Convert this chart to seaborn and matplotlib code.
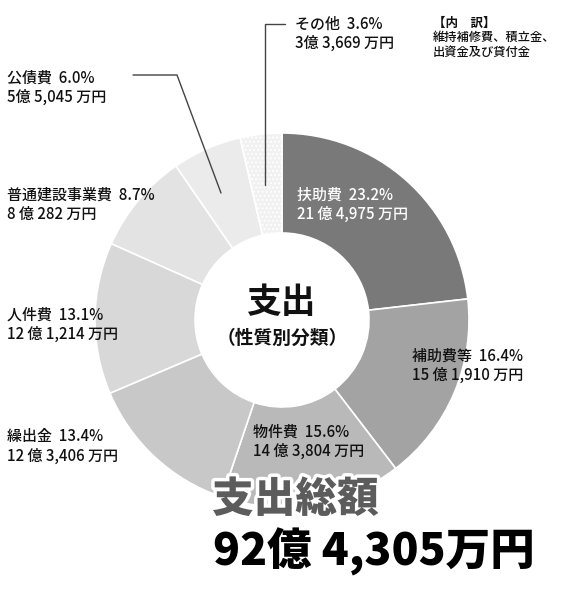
import numpy as np
import matplotlib
matplotlib.use('Agg')
import matplotlib.pyplot as plt
import matplotlib.patheffects as pe
import seaborn as sns

sns.set_theme(style='white')
plt.rcParams['font.family'] = ['Noto Sans CJK JP', 'DejaVu Sans']
plt.rcParams['hatch.color'] = '#d6d6d6'

# Data (clockwise from 12 o'clock)
CATEGORIES = ['扶助費', '補助費等', '物件費', '繰出金', '人件費', '普通建設事業費', '公債費', 'その他']
SHARES = [23.2, 16.4, 15.6, 13.4, 13.1, 8.7, 6.0, 3.6]
AMOUNTS = ['21 億 4,975 万円', '15 億 1,910 万円', '14 億 3,804 万円', '12 億 3,406 万円',
           '12 億 1,214 万円', '8 億 282 万円', '5億 5,045 万円', '3億 3,669 万円']
COLORS = ['#7a7979', '#a3a3a3', '#b9b9b9', '#c8c8c8', '#d8d8d8', '#e3e3e3', '#ebebeb', '#f1f1f1']
TOTAL = '92億 4,305万円'
NOTE = ['【内　訳】', '維持補修費、積立金、', '出資金及び貸付金']

# label positions in pixel space (x left, y of first line)
LABEL_POS = [(297, 195, 'white'), (412, 356, '#111'), (253, 432, '#111'), (7, 437, '#111'),
             (7, 315, '#111'), (7, 195, '#111'), (7, 78, '#111'), (295, 24, '#111')]

fig = plt.figure(figsize=(5.8, 5.9), dpi=100)
ax = fig.add_axes([0, 0, 1, 1])

wedges, _ = ax.pie(SHARES, colors=COLORS, startangle=-90, counterclock=True,
                   center=(282, 320), radius=187,
                   wedgeprops=dict(width=100, edgecolor='white', linewidth=1.2))
wedges[-1].set_hatch('....')

ax.set_xlim(0, 580)
ax.set_ylim(590, 0)
ax.set_aspect('equal')
ax.axis('off')

for (x, y, c), name, pct, amt in zip(LABEL_POS, CATEGORIES, SHARES, AMOUNTS):
    ax.text(x, y, f'{name}  {pct:.1f}%', fontsize=10.8, fontweight='medium', color=c,
            va='center', ha='left')
    ax.text(x, y + 19, amt, fontsize=10.8, fontweight='medium', color=c, va='center', ha='left')

# leader lines
ax.plot([285, 265, 265], [24, 24, 185], color='#444', lw=1)
ax.plot([133, 177, 221], [75, 75, 193], color='#444', lw=1)

# breakdown note for その他
ax.text(433, 23, NOTE[0], fontsize=9, fontweight='bold', color='#111', va='center')
ax.text(433, 37, NOTE[1], fontsize=8.8, fontweight='medium', color='#111', va='center')
ax.text(433, 52, NOTE[2], fontsize=8.8, fontweight='medium', color='#111', va='center')

# center labels
ax.text(281, 303, '支出', fontsize=25, fontweight='bold', color='#111', ha='center', va='center')
ax.text(282, 338, '（性質別分類）', fontsize=13.5, fontweight='bold', color='#111', ha='center', va='center')

# total
ax.text(212, 500, '支出総額', fontsize=30, fontweight='heavy', color='#5c5c5c', ha='left', va='center',
        path_effects=[pe.withStroke(linewidth=5, foreground='white')])
ax.text(213, 552, TOTAL, fontsize=32, fontweight='heavy', color='#000', ha='left', va='center')

fig.savefig('out.png', dpi=100)
